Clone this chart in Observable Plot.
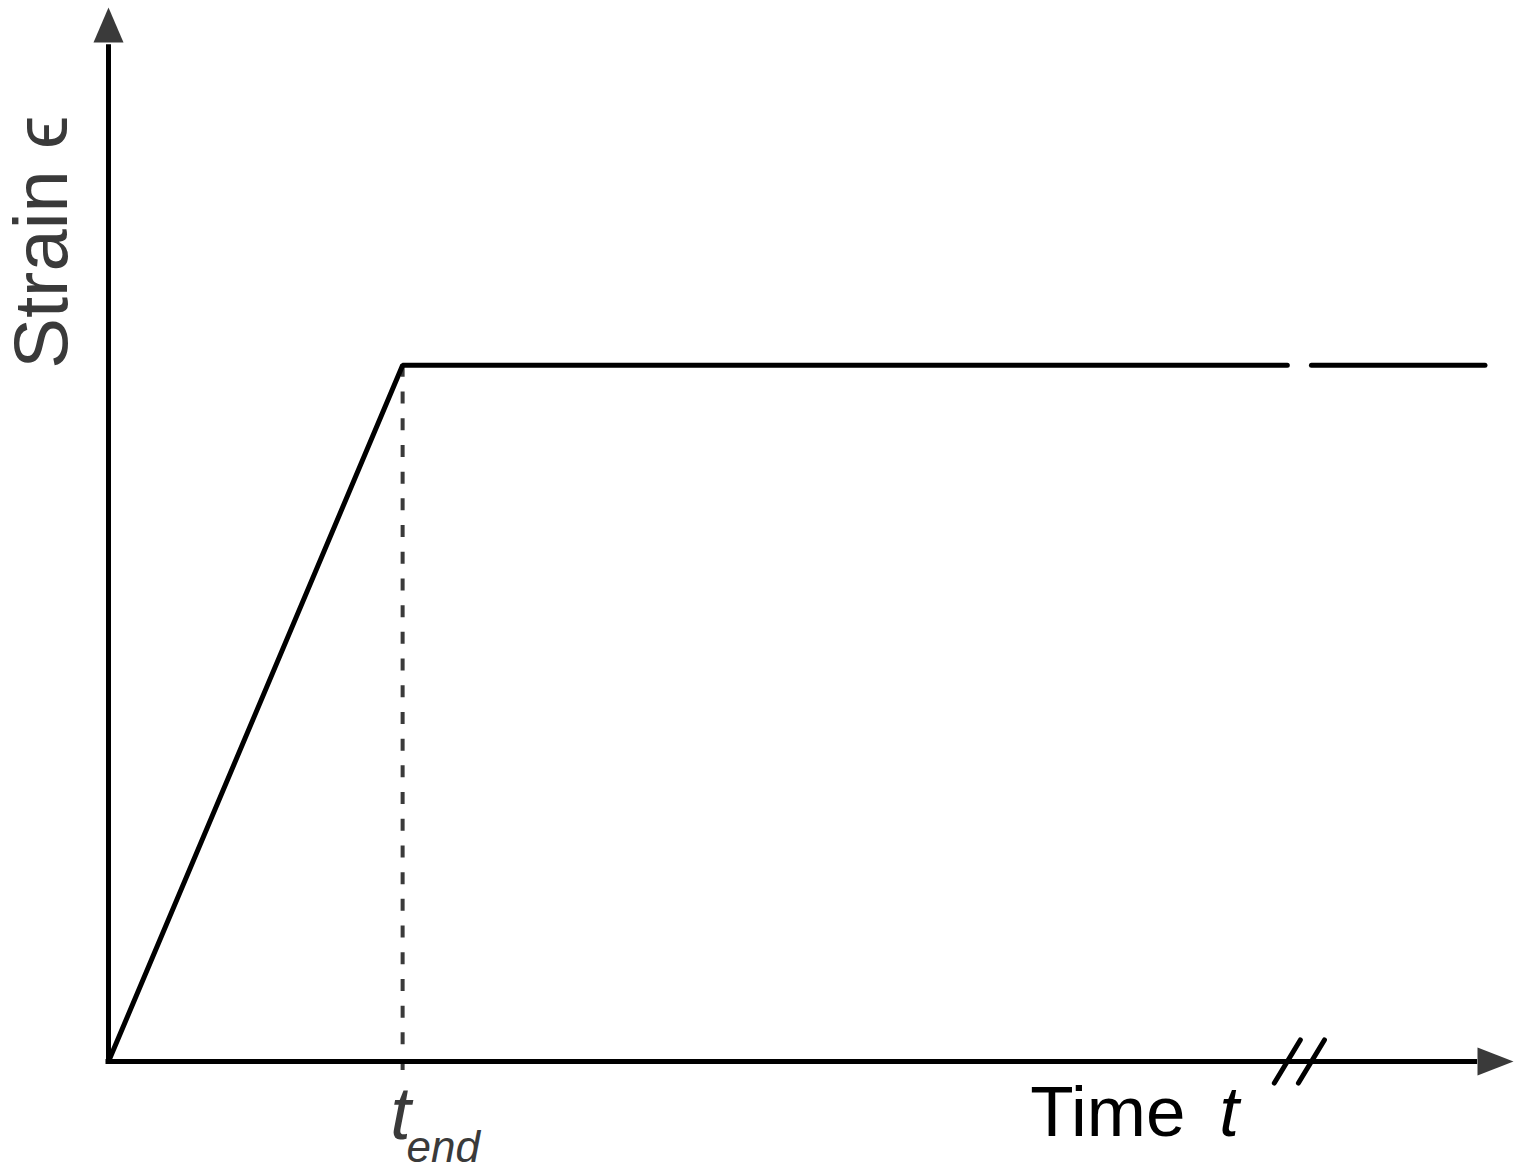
<!DOCTYPE html>
<html>
<head>
<meta charset="utf-8">
<script src="https://cdn.jsdelivr.net/npm/d3@7"></script>
<script src="https://cdn.jsdelivr.net/npm/@observablehq/plot@0.6"></script>
<style>
  html, body { margin: 0; padding: 0; background: #fff; }
  #chart svg { display: block; }
</style>
</head>
<body>
<div id="chart"></div>
<script>
// ---- data (time in units of t_end, strain in units of plateau strain) ----
const rampTime = [0, 1, 4.008];       // ramp to t_end, then hold (before break)
const rampStrain = [0, 1, 1];
const holdTime = [4.09, 4.68];        // hold continues after the axis break
const holdStrain = [1, 1];
const tEnd = 1;
const breakTimes = [4.008, 4.09];     // "//" axis-break marks
const xAxisEnd = 4.655, xArrowTip = 4.777;
const yAxisEnd = 1.464, yArrowTip = 1.514;
const yLabel = "Strain \u03F5";
const xLabelWord = "Time";
const xLabelSym = "t";
const tickMain = "t";
const tickSub = "end";

const W = 1523, H = 1171;
const FONT = "'Liberation Sans', Arial, Helvetica, sans-serif";
const INK = "#3a3a3a";

const upArrow = { draw(ctx) { ctx.moveTo(0, 0); ctx.lineTo(15, 35); ctx.lineTo(-15, 35); ctx.closePath(); } };
const rightArrow = { draw(ctx) { ctx.moveTo(0, 0); ctx.lineTo(-36, -14); ctx.lineTo(-36, 14); ctx.closePath(); } };
const slash = { draw(ctx) { ctx.moveTo(-13, 21.5); ctx.lineTo(13, -21.5); } };

const ramp = rampTime.map((t, i) => ({t, s: rampStrain[i]}));
const hold = holdTime.map((t, i) => ({t, s: holdStrain[i]}));

const chart = Plot.plot({
  width: W,
  height: H,
  marginLeft: 108,
  marginRight: 10,
  marginTop: 7,
  marginBottom: 110,
  style: { fontFamily: FONT, background: "#fff", overflow: "visible" },
  x: { domain: [0, xArrowTip], axis: null },
  y: { domain: [0, yArrowTip], axis: null },
  marks: [
    // dashed guide at t_end
    Plot.ruleX([tEnd], { y1: 1, y2: 0, stroke: INK, strokeWidth: 4, strokeDasharray: "12,14.7", insetBottom: -9 }),
    // axes
    Plot.ruleY([0], { x1: 0, x2: xAxisEnd, stroke: "#000", strokeWidth: 5, insetLeft: -2.5 }),
    Plot.ruleX([0], { y1: 0, y2: yAxisEnd, stroke: "#000", strokeWidth: 5, insetBottom: -2.5 }),
    Plot.dot([{x: 0, y: yArrowTip}], { x: "x", y: "y", symbol: upArrow, fill: INK, stroke: "none", r: 10 }),
    Plot.dot([{x: xArrowTip, y: 0}], { x: "x", y: "y", symbol: rightArrow, fill: INK, stroke: "none", r: 10 }),
    // axis break marks
    Plot.dot(breakTimes, { x: d => d, y: () => 0, symbol: slash, fill: "none", stroke: "#000", strokeWidth: 5, strokeLinecap: "round", r: 10 }),
    // strain history
    Plot.line(ramp, { x: "t", y: "s", stroke: "#000", strokeWidth: 5, strokeLinejoin: "miter" }),
    Plot.line(hold, { x: "t", y: "s", stroke: "#000", strokeWidth: 5 }),
    // labels
    Plot.text([yLabel], { x: () => 0, y: () => 1.177, text: d => d, rotate: -90, dx: -42, lineAnchor: "bottom", textAnchor: "middle", fontSize: 76, fill: INK }),
    Plot.text([xLabelWord], { x: () => 3.134, y: () => 0, text: d => d, dy: 74, lineAnchor: "bottom", textAnchor: "start", fontSize: 71, fill: "#000" }),
    Plot.text([xLabelSym], { x: () => 3.81, y: () => 0, text: d => d, dy: 74, lineAnchor: "bottom", textAnchor: "middle", fontSize: 71, fontStyle: "italic", fill: "#000" }),
    Plot.text([tickMain], { x: () => tEnd, y: () => 0, text: d => d, dx: -2, dy: 77, lineAnchor: "bottom", textAnchor: "middle", fontSize: 74, fontStyle: "italic", fill: INK }),
    Plot.text([tickSub], { x: () => tEnd, y: () => 0, text: d => d, dx: 4, dy: 100, lineAnchor: "bottom", textAnchor: "start", fontSize: 44, fontStyle: "italic", fill: INK })
  ]
});
document.getElementById("chart").appendChild(chart);
</script>
</body>
</html>
